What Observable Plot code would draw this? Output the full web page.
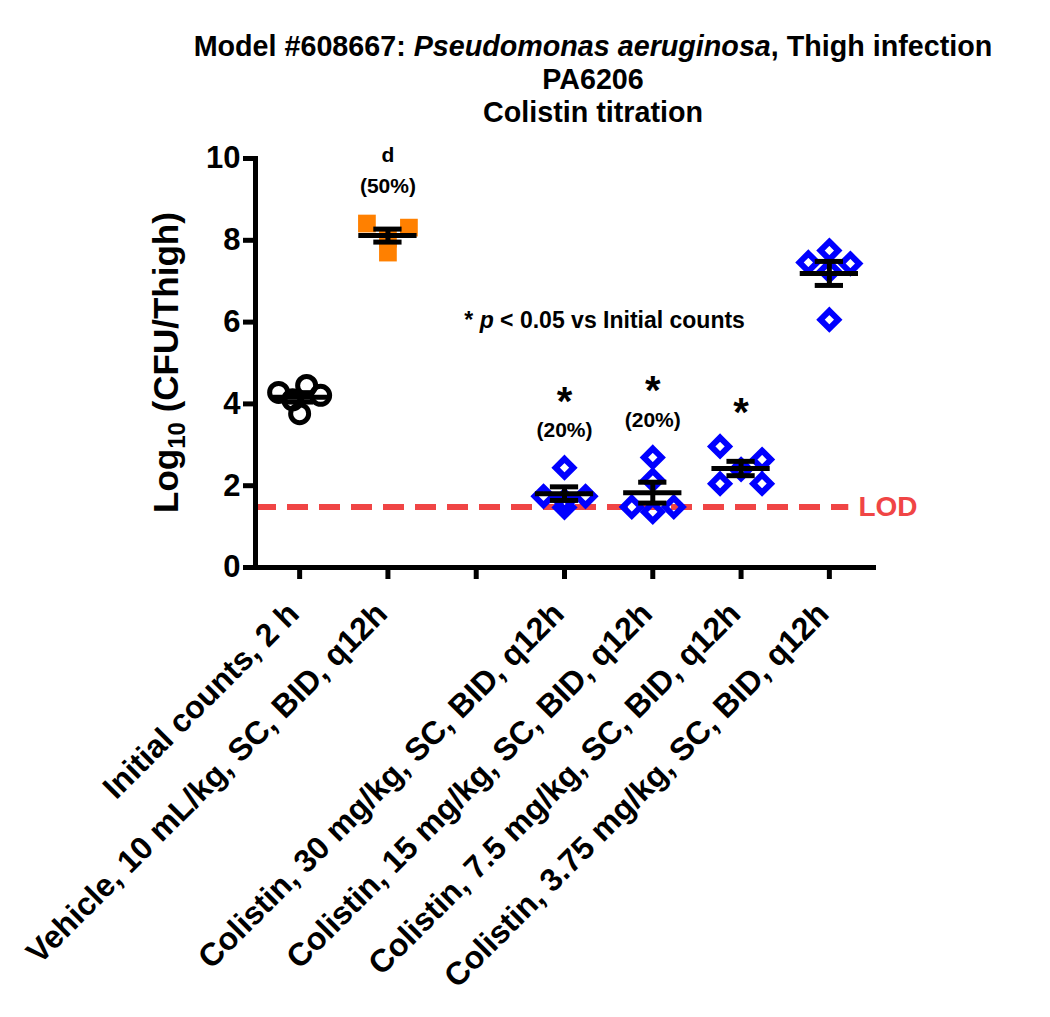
<!DOCTYPE html>
<html><head><meta charset="utf-8">
<script src="https://cdn.jsdelivr.net/npm/d3@7"></script>
<script src="https://cdn.jsdelivr.net/npm/@observablehq/plot@0.6"></script>
<style>
body{margin:0;background:#fff;font-family:"Liberation Sans",Arial,sans-serif;}
#title{width:1050px;height:130px;box-sizing:border-box;padding-top:30px;padding-left:136px;text-align:center;font-weight:bold;font-size:28.7px;line-height:33px;color:#000;}
#chart svg{overflow:visible;}
</style></head><body>
<div id="title"><div>Model #608667: <i>Pseudomonas aeruginosa</i>, Thigh infection</div><div>PA6206</div><div>Colistin titration</div></div>
<div id="chart"></div>
<script>
// ---- data ----
const categories = [
  "Initial counts, 2 h",
  "Vehicle, 10 mL/kg, SC, BID, q12h",
  "",
  "Colistin, 30 mg/kg, SC, BID, q12h",
  "Colistin, 15 mg/kg, SC, BID, q12h",
  "Colistin, 7.5 mg/kg, SC, BID, q12h",
  "Colistin, 3.75 mg/kg, SC, BID, q12h"
];
const initialCounts = [4.21, 4.45, 4.28, 3.76, 4.10];
const vehicle = [8.31, 8.41, 7.70, 8.04];
const colistin30 = [2.44, 1.47, 1.74, 1.64, 1.74];
const colistin15 = [2.69, 2.14, 1.48, 1.36, 1.48];
const colistin7_5 = [2.96, 2.05, 2.64, 2.05, 2.40];
const colistin3_75 = [7.46, 7.75, 7.43, 6.06, 7.25];
const yTicks = [0, 2, 4, 6, 8, 10];
const LOD = 1.48;
const mortality = ["", "(50%)", "", "(20%)", "(20%)", "", ""];
const topMarks = ["", "d", "", "*", "*", "*", ""];
const noteText = ["* ", "p", " < 0.05 vs Initial counts"];

// ---- build ----
const series = [
  {i: 0, values: initialCounts, kind: "circle"},
  {i: 1, values: vehicle, kind: "square"},
  {i: 3, values: colistin30, kind: "diamond"},
  {i: 4, values: colistin15, kind: "diamond"},
  {i: 5, values: colistin7_5, kind: "diamond"},
  {i: 6, values: colistin3_75, kind: "diamond"}
];

const W = 1050, H = 887, mT = 28, mB = 450, mL = 255, mR = 177;
const pxPerX = (W - mL - mR) / categories.length;

// GraphPad-like horizontal spreading of points sharing a value band
function spread(values) {
  const halfW = 21, band = 0.5;
  const items = values.map((v, k) => ({v, k, off: 0}));
  const bins = d3.group(items, d => Math.floor(d.v / band));
  for (const row of bins.values()) {
    const n = row.length;
    if (n < 2) continue;
    const pos = d3.range(n).map(j => -halfW + j * 2 * halfW / (n - 1))
      .sort((a, b) => Math.abs(b) - Math.abs(a) || a - b);
    const iso = d => d3.min(row.filter(o => o !== d), o => Math.abs(o.v - d.v));
    const ordered = row.slice().sort((a, b) => iso(a) - iso(b) || b.v - a.v);
    ordered.forEach((d, j) => d.off = pos[j]);
  }
  return items;
}

const points = series.flatMap(s => spread(s.values).map(d => ({
  x: s.i + d.off / pxPerX, y: d.v, kind: s.kind
})));

const stats = series.map(s => {
  const m = d3.mean(s.values);
  const sem = d3.deviation(s.values) / Math.sqrt(s.values.length);
  return {i: s.i, mean: m, lo: m - sem, hi: m + sem, max: d3.max(s.values),
          mort: mortality[s.i], top: topMarks[s.i]};
});

const font = "Liberation Sans, Arial, sans-serif";
const lastIdx = categories.length - 1;

const plot = Plot.plot({
  width: W, height: H, marginTop: mT, marginBottom: mB, marginLeft: mL, marginRight: mR,
  style: {fontFamily: font, color: "#000", background: "#fff", overflow: "visible"},
  x: {domain: [-0.5, categories.length - 0.5], axis: null},
  y: {domain: [0, 10], axis: null},
  marks: [
    Plot.ruleY([LOD], {x1: -0.5, x2: lastIdx + 0.22, stroke: "#f04545", strokeWidth: 6,
      strokeDasharray: "21,11"}),
    Plot.text([LOD], {x: lastIdx + 0.33, y: d => d, text: () => "LOD", fill: "#f04545",
      fontSize: 28, fontWeight: "bold", textAnchor: "start", lineAnchor: "middle"}),
    Plot.frame({anchor: "left", strokeWidth: 5, strokeLinecap: "square"}),
    Plot.frame({anchor: "bottom", strokeWidth: 5, strokeLinecap: "square"}),
    Plot.axisY({ticks: yTicks, tickSize: 12, strokeWidth: 5, fontSize: 31, fontWeight: "bold",
      tickPadding: 3, label: null}),
    Plot.axisX({ticks: d3.range(categories.length), tickSize: 12, strokeWidth: 5, text: null, label: null}),
    Plot.axisX({ticks: d3.range(categories.length), tickFormat: i => categories[i], tickRotate: -45,
      tickSize: 0, fontSize: 32, fontWeight: "bold", tickPadding: 41, dx: -6, label: null}),
    Plot.dot(points.filter(d => d.kind === "circle"), {x: "x", y: "y", symbol: "circle", r: 9,
      stroke: "#000", strokeWidth: 5, fill: "none"}),
    Plot.dot(points.filter(d => d.kind === "square"), {x: "x", y: "y", symbol: "square", r: 10,
      fill: "#ff8000", stroke: "none"}),
    Plot.dot(points.filter(d => d.kind === "diamond"), {x: "x", y: "y", symbol: "diamond2", r: 8,
      stroke: "#0000ff", strokeWidth: 6, fill: "none"}),
    Plot.ruleY(stats, {y: "mean", x1: d => d.i - 0.33, x2: d => d.i + 0.33, stroke: "#000", strokeWidth: 5}),
    Plot.ruleX(stats, {x: "i", y1: "lo", y2: "hi", stroke: "#000", strokeWidth: 5}),
    Plot.ruleY(stats, {y: "hi", x1: d => d.i - 0.16, x2: d => d.i + 0.16, stroke: "#000", strokeWidth: 5}),
    Plot.ruleY(stats, {y: "lo", x1: d => d.i - 0.16, x2: d => d.i + 0.16, stroke: "#000", strokeWidth: 5}),
    Plot.text(stats.filter(d => d.mort), {x: "i", y: "max", text: "mort", dy: -37, fontSize: 21,
      fontWeight: "bold", lineAnchor: "middle"}),
    Plot.text(stats.filter(d => d.top && d.top !== "*"), {x: "i", y: "max", text: "top", dy: -68, fontSize: 21,
      fontWeight: "bold", lineAnchor: "middle"}),
    Plot.text(stats.filter(d => d.top === "*" && d.mort), {x: "i", y: "max", text: "top", dy: -66, fontSize: 40,
      fontWeight: "bold", lineAnchor: "middle"}),
    Plot.text(stats.filter(d => d.top === "*" && !d.mort), {x: "i", y: "max", text: "top", dy: -33, fontSize: 40,
      fontWeight: "bold", lineAnchor: "middle"})
  ]
});

document.getElementById("chart").appendChild(plot);

// y-axis title with subscript and the significance note (with italic p)
const svg = d3.select(plot);
const xs = plot.scale("x"), ys = plot.scale("y");
const yl = svg.append("text")
  .attr("transform", `translate(178,${ys.apply(5)}) rotate(-90)`)
  .attr("text-anchor", "middle").attr("font-family", font).attr("font-weight", "bold")
  .attr("font-size", 35).attr("fill", "#000");
yl.append("tspan").text("Log");
yl.append("tspan").attr("font-size", 24).attr("dy", 7).text("10");
yl.append("tspan").attr("dy", -7).text(" (CFU/Thigh)");

const note = svg.append("text")
  .attr("x", xs.apply(3.46)).attr("y", ys.apply(6.05)).attr("dy", "0.35em")
  .attr("text-anchor", "middle").attr("font-family", font).attr("font-weight", "bold")
  .attr("font-size", 23).attr("fill", "#000");
note.append("tspan").text(noteText[0]);
note.append("tspan").attr("font-style", "italic").text(noteText[1]);
note.append("tspan").text(noteText[2]);
</script>
</body></html>
